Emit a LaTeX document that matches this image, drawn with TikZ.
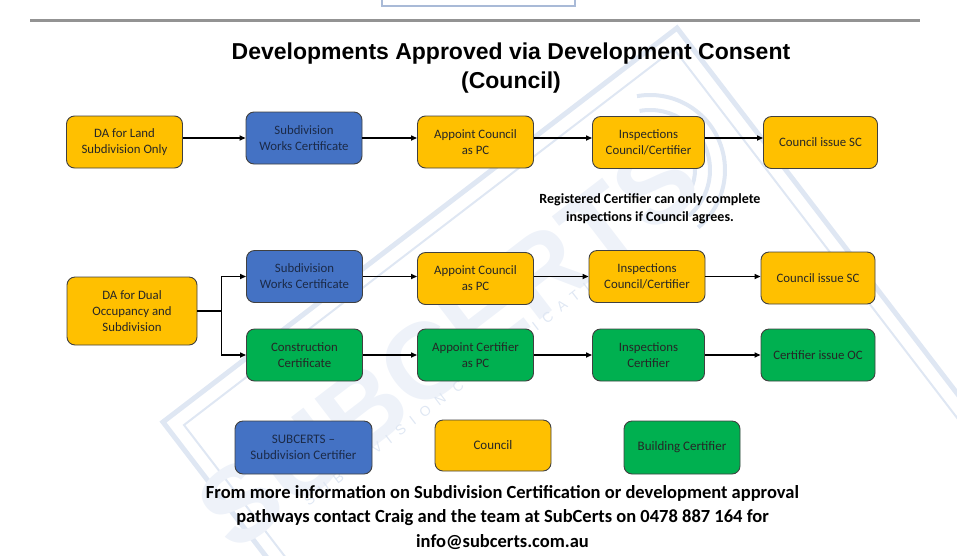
\documentclass[tikz,border=0pt]{standalone}
\usepackage{fontspec}
\setmainfont{Carlito}
\newfontfamily\headfont{Liberation Sans}
\newfontfamily\wmfont[LetterSpace=60]{Liberation Sans}
\usetikzlibrary{arrows.meta,positioning,calc}

\definecolor{councilyellow}{HTML}{FFC000}
\definecolor{subblue}{HTML}{4472C4}
\definecolor{certgreen}{HTML}{00B050}
\definecolor{navytext}{HTML}{1B2A48}
\definecolor{wmline}{HTML}{DFE7F3}
\definecolor{wmtext}{HTML}{EEF2F9}
\definecolor{topframe}{HTML}{A9BAD7}

\tikzset{
  box/.style={draw=black!75, line width=0.9pt, rounded corners=8pt, inner sep=0pt,
    minimum width=116pt, minimum height=52pt, align=center,
    font=\fontsize{12.8}{16}\selectfont, text=black!85},
  council/.style={box, fill=councilyellow},
  subcert/.style={box, fill=subblue, text=navytext},
  builder/.style={box, fill=certgreen},
  legend/.style={font=\fontsize{13}{16}\selectfont},
  flow/.style={-{Triangle[length=6pt,width=5pt]}, line width=1.8pt},
}

\begin{document}
\begin{tikzpicture}[x=1pt,y=-1pt]
\useasboundingbox (0,0) rectangle (957,555);

% watermark
\begin{scope}
  \clip (0,0) rectangle (957,555);
  \draw[wmline, line width=5pt] (163,422) -- (677,28) -- (1071,542) -- (557,936) -- cycle;
  \draw[wmline, line width=2pt] (184,425) -- (674,49) -- (1050,539) -- (560,915) -- cycle;
  \foreach \r in {45,60,75}
    \draw[wmline, line width=4pt] (650,170) ++(-100:\r) arc[start angle=-100, end angle=50, radius=\r];
  \node[rotate=37.5, text=wmtext, font=\headfont\bfseries\fontsize{108}{108}\selectfont] (wmname) at (448,344) {SUBCERTS};
  \node[rotate=37.5, text=wmline, font=\wmfont\fontsize{14}{14}\selectfont] (wmsub) at (462,383) {SUBDIVISION CERTIFICATION};
\end{scope}

% header
\draw[topframe, line width=2.5pt] (382,-5) -- (382,6) -- (575,6) -- (575,-5);
\draw[gray!85, line width=2.5pt] (30,20.5) -- (920,20.5);
\node[font=\headfont\bfseries\fontsize{23}{29}\selectfont, align=center] (title) at (511,68)
  {Developments Approved via Development Consent\\(Council)};

% land subdivision only
\node[council] (da1) at (124.5,142) {DA for Land\\Subdivision Only};
\node[subcert] (swc1) at (304,138) {Subdivision\\Works Certificate};
\node[council] (ac1) at (475.5,142) {Appoint Council\\as PC};
\node[council, minimum width=112pt] (insp1) at (648.5,142.5) {Inspections\\Council/Certifier};
\node[council, minimum width=114pt] (sc1) at (820.5,142.5) {Council issue SC};

\node[font=\bfseries\fontsize{14}{18}\selectfont, align=center] (note) at (650,209)
  {Registered Certifier can only complete\\inspections if Council agrees.};

% dual occupancy and subdivision
\node[council, minimum width=130pt, minimum height=68pt] (da2) at (132,311) {DA for Dual\\Occupancy and\\Subdivision};
\node[subcert] (swc2) at (304.5,276.5) {Subdivision\\Works Certificate};
\node[council] (ac2) at (475.5,278.5) {Appoint Council\\as PC};
\node[council] (insp2) at (647,276.5) {Inspections\\Council/Certifier};
\node[council, minimum width=114pt] (sc2) at (818,278) {Council issue SC};
\node[builder] (cc) at (304.5,355) {Construction\\Certificate};
\node[builder] (acert) at (475.5,355) {Appoint Certifier\\as PC};
\node[builder, minimum width=112pt] (inspc) at (648.5,355) {Inspections\\Certifier};
\node[builder, minimum width=114pt] (oc) at (818,355) {Certifier issue OC};

% arrows
\draw[flow] (da1.east |- swc1) -- (swc1.west);
\foreach \a/\b in {swc1/ac1, ac1/insp1, insp1/sc1}
  \draw[flow] (\a.east |- swc1) -- (\b.west |- swc1);

\draw[line width=1.8pt] (da2.east) -- ++(24,0) coordinate (fork);
\draw[flow] (fork) |- (swc2.west);
\draw[flow] (fork) |- (cc.west);
\foreach \a/\b in {swc2/ac2, ac2/insp2, insp2/sc2}
  \draw[flow] (\a.east |- swc2) -- (\b.west |- swc2);
\foreach \a/\b in {cc/acert, acert/inspc, inspc/oc}
  \draw[flow] (\a.east |- cc) -- (\b.west |- cc);

% key
\node[subcert, legend, minimum width=137pt, minimum height=53pt] (keysub) at (303.5,447.5) {SUBCERTS --\\Subdivision Certifier};
\node[council, legend, minimum height=51pt] (keycouncil) at (493,445.5) {Council};
\node[builder, legend, minimum height=53pt] (keybuild) at (682,447.5) {Building Certifier};

\node[font=\bfseries\fontsize{18.5}{24.5}\selectfont, align=center] (contact) at (502.5,517.5)
  {From more information on Subdivision Certification or development approval\\
   pathways contact Craig and the team at SubCerts on 0478 887 164 for\\
   info@subcerts.com.au};
\end{tikzpicture}
\end{document}
